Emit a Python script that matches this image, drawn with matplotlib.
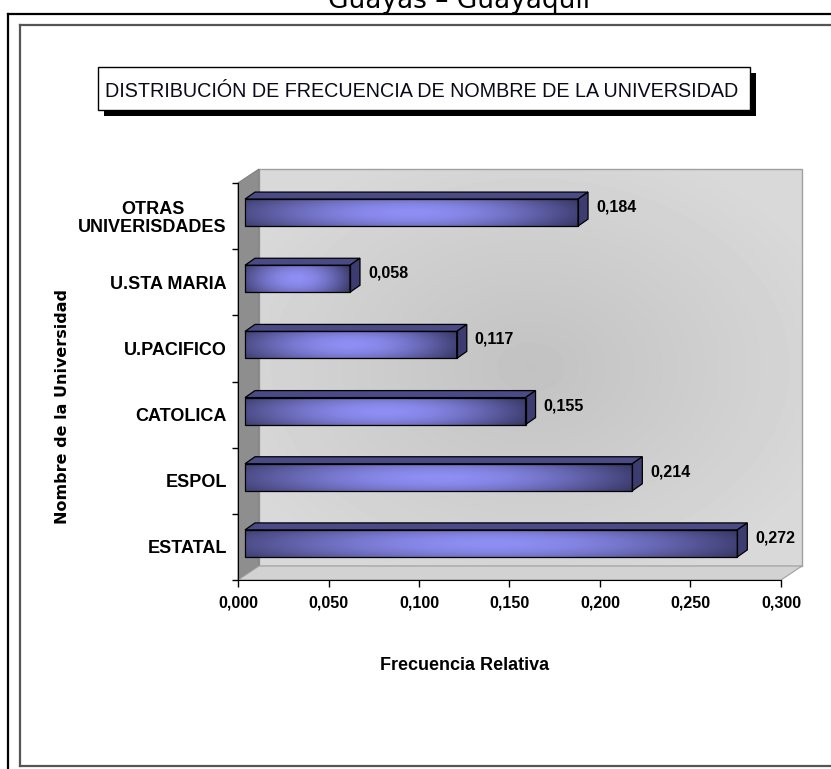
import numpy as np
import matplotlib.pyplot as plt
import matplotlib.transforms as mtransforms
from matplotlib.patches import Rectangle, Polygon
from matplotlib.lines import Line2D
from matplotlib.colors import to_rgb

plt.rcParams['font.family'] = ['Liberation Sans', 'DejaVu Sans']

# datos (de abajo hacia arriba)
categorias = ['ESTATAL', 'ESPOL', 'CATOLICA', 'U.PACIFICO', 'U.STA MARIA',
              'OTRAS\nUNIVERISDADES']
frecuencias = [0.272, 0.214, 0.155, 0.117, 0.058, 0.184]
etiquetas = ['0,272', '0,214', '0,155', '0,117', '0,058', '0,184']
xticks = [0.0, 0.05, 0.10, 0.15, 0.20, 0.25, 0.30]
xticklabels = ['0,000', '0,050', '0,100', '0,150', '0,200', '0,250', '0,300']

W, H = 831, 769


def fx(px):
    return px / W


def fy(py):
    return 1 - py / H


def gradienteBarra(nx=200, ny=30):
    t = np.linspace(0, 1, nx)
    c_izq = np.array(to_rgb('#4e4e8a'))
    c_pico = np.array(to_rgb('#8e8ef4'))
    c_der = np.array(to_rgb('#424278'))
    fila = np.empty((nx, 3))
    for k, tt in enumerate(t):
        if tt < 0.5:
            s = tt / 0.5
            fila[k] = c_izq + (c_pico - c_izq) * np.sin(s * np.pi / 2)
        else:
            s = (tt - 0.5) / 0.5
            fila[k] = c_pico + (c_der - c_pico) * (1 - np.cos(s * np.pi / 2))
    v = np.linspace(-1, 1, ny)
    fact = 1 - 0.18 * v ** 2
    img = fila[None, :, :] * fact[:, None, None]
    return np.clip(img, 0, 1)


fig = plt.figure(figsize=(W / 100, H / 100), dpi=100)

# marcos exteriores
fig.add_artist(Line2D([fx(8), fx(8)], [fy(14), 0], color='black', lw=1.6))
fig.add_artist(Line2D([fx(8), 1], [fy(14), fy(14)], color='black', lw=1.6))
fig.add_artist(Line2D([fx(20), fx(20)], [fy(25), fy(766)], color='#555555', lw=1.6))
fig.add_artist(Line2D([fx(20), 1], [fy(25), fy(25)], color='#555555', lw=1.6))
fig.add_artist(Line2D([fx(20), 1], [fy(766), fy(766)], color='#555555', lw=1.6))

fig.text(fx(459), fy(8), 'Guayas – Guayaquil', ha='center', va='baseline',
         fontsize=19, family='DejaVu Sans')

# cuadro del titulo con sombra
fig.add_artist(Rectangle((fx(104), fy(116)), 652 / W, 43 / H, fc='black', ec='none'))
fig.add_artist(Rectangle((fx(98), fy(110)), 652 / W, 43 / H, fc='white',
                         ec='black', lw=1))
fig.text(fx(422), fy(97), 'DISTRIBUCIÓN DE FRECUENCIA DE NOMBRE DE LA UNIVERSIDAD',
         ha='center', va='baseline', fontsize=14.2, color='#0a0a1a')

ax = fig.add_axes([fx(238), fy(580), 543 / W, 397 / H])
ax.patch.set_visible(False)

# paredes 3D
dxa, dya = 21 / 543, 14 / 397
nx, ny = 160, 120
xx, yy = np.meshgrid(np.linspace(-1, 1, nx), np.linspace(-1, 1, ny))
r = np.clip(np.sqrt(xx ** 2 + yy ** 2) / 1.2, 0, 1)
fondo = 0.76 + 0.09 * r
ax.imshow(fondo, cmap='gray', vmin=0, vmax=1, extent=(dxa, 1 + dxa, dya, 1 + dya),
          transform=ax.transAxes, aspect='auto', zorder=0, clip_on=False,
          interpolation='bilinear')
ax.add_patch(Rectangle((dxa, dya), 1, 1, transform=ax.transAxes, fc='none',
                       ec='#a0a0a0', lw=1, zorder=1, clip_on=False))
ax.add_patch(Polygon([(0, 0), (dxa, dya), (dxa, 1 + dya), (0, 1)], closed=True,
                     transform=ax.transAxes, fc='#8e8e8e', ec='#808080', lw=0.8,
                     zorder=1, clip_on=False))
ax.add_patch(Polygon([(0, 0), (1, 0), (1 + dxa, dya), (dxa, dya)], closed=True,
                     transform=ax.transAxes, fc='#d2d2d2', ec='#a0a0a0', lw=0.8,
                     zorder=1, clip_on=False))

# barras 3D
ux, uy = 0.3 / 543, 6 / 397
h = 27 * uy
ddx, ddy = 10 * ux, 7 * uy
tr = ax.transData + mtransforms.ScaledTranslation(7 / 100, 3.5 / 100, fig.dpi_scale_trans)
tr_lbl = ax.transData + mtransforms.ScaledTranslation(25 / 100, 9 / 100, fig.dpi_scale_trans)
grad = gradienteBarra()

bars = ax.barh(range(len(categorias)), frecuencias, height=h, transform=tr,
               color='none', edgecolor='black', lw=0.9, zorder=5)
for i, (b, v) in enumerate(zip(bars, frecuencias)):
    y0, y1 = i - h / 2, i + h / 2
    ax.imshow(grad, extent=(0, v, y0, y1), transform=tr, aspect='auto',
              zorder=3, interpolation='bilinear', clip_on=False)
    ax.add_patch(Polygon([(0, y1), (v, y1), (v + ddx, y1 + ddy), (ddx, y1 + ddy)],
                         closed=True, transform=tr, fc='#4a4a86', ec='black',
                         lw=0.9, zorder=4, clip_on=False))
    ax.add_patch(Polygon([(v, y0), (v + ddx, y0 + ddy), (v + ddx, y1 + ddy), (v, y1)],
                         closed=True, transform=tr, fc='#3c3c70', ec='black',
                         lw=0.9, zorder=4, clip_on=False))
    ax.text(v, i, etiquetas[i], transform=tr_lbl, ha='left', va='center',
            fontsize=11.5, fontweight='bold')

ax.set_xlim(0, 0.3)
ax.set_ylim(-0.5, 5.5)

ax.spines['top'].set_visible(False)
ax.spines['right'].set_visible(False)
ax.spines['left'].set_zorder(6)
ax.spines['bottom'].set_zorder(6)

ax.set_xticks(xticks)
ax.set_xticklabels(xticklabels, fontsize=11.5, fontweight='bold')
ax.tick_params(axis='x', length=5, width=1, pad=6)

ax.set_yticks(np.arange(-0.5, 6, 1))
ax.set_yticklabels([])
ax.tick_params(axis='y', which='major', length=4, width=1)
ax.set_yticks(range(len(categorias)), minor=True)
ax.set_yticklabels(categorias, minor=True, fontsize=13, fontweight='bold')
ax.tick_params(axis='y', which='minor', length=0, pad=8)
for lbl in ax.get_yticklabels(minor=True):
    lbl.set_multialignment('center')
    lbl.set_linespacing(1.05)

fig.text(fx(465), fy(666), 'Frecuencia Relativa', ha='center', va='center',
         fontsize=13, fontweight='bold')
fig.text(fx(63), fy(407), 'Nombre de la Universidad', ha='center', va='center',
         rotation=90, fontsize=11.5, fontweight='bold', family='DejaVu Sans')

fig.savefig('out.png', dpi=100)
